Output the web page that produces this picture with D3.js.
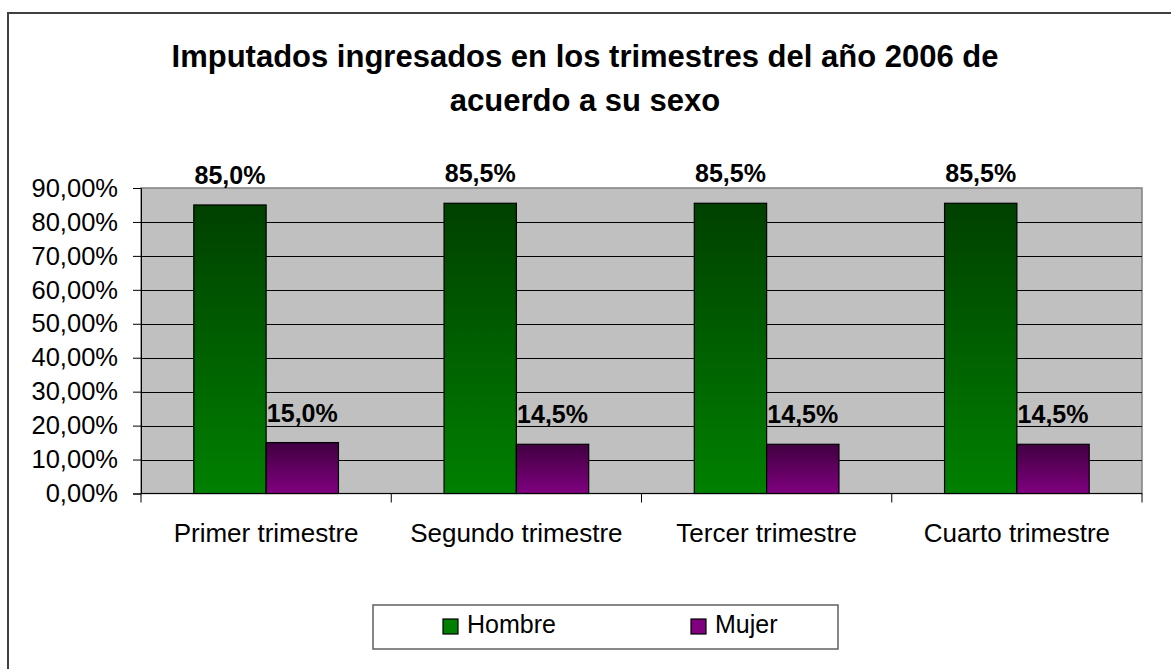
<!DOCTYPE html>
<html>
<head>
<meta charset="utf-8">
<script src="https://cdn.jsdelivr.net/npm/d3@7"></script>
<style>
  html, body { margin: 0; padding: 0; background: #fff; }
  svg { display: block; font-family: Arial, "Liberation Sans", sans-serif; }
</style>
</head>
<body>
<svg id="chart" width="1171" height="669"></svg>
<script>
const categories = ["Primer trimestre", "Segundo trimestre", "Tercer trimestre", "Cuarto trimestre"];
const seriesNames = ["Hombre", "Mujer"];
const hombre = [85.0, 85.5, 85.5, 85.5];
const mujer = [15.0, 14.5, 14.5, 14.5];
const yTicks = [0, 10, 20, 30, 40, 50, 60, 70, 80, 90];
const titleLines = ["Imputados ingresados en los trimestres del año 2006 de", "acuerdo a su sexo"];
const seriesColors = { Hombre: ["#004000", "#008000"], Mujer: ["#400040", "#800080"] };

const svg = d3.select("#chart");
const W = 1171, H = 669;
const plot = { left: 141, right: 1142, top: 188, bottom: 493.5 };

// outer frame
svg.append("rect").attr("x", 8).attr("y", 13).attr("width", W + 20).attr("height", H + 20)
  .attr("fill", "#fff").attr("stroke", "#404040").attr("stroke-width", 2);

// gradients
const defs = svg.append("defs");
seriesNames.forEach(s => {
  const g = defs.append("linearGradient").attr("id", "grad-" + s)
    .attr("x1", 0).attr("y1", 0).attr("x2", 0).attr("y2", 1);
  g.append("stop").attr("offset", "0%").attr("stop-color", seriesColors[s][0]);
  g.append("stop").attr("offset", "100%").attr("stop-color", seriesColors[s][1]);
});

// title
svg.append("g").selectAll("text").data(titleLines).join("text")
  .attr("x", 585).attr("y", (d, i) => 67 + i * 44)
  .attr("text-anchor", "middle").attr("font-weight", "bold").attr("font-size", 31)
  .attr("fill", "#000").text(d => d);

const y = d3.scaleLinear().domain([0, 90]).range([plot.bottom, plot.top]);
const x0 = d3.scaleBand().domain(categories).range([plot.left, plot.right]).paddingInner(0).paddingOuter(0);
const x1 = d3.scaleBand().domain(seriesNames).range([0, x0.bandwidth()]).paddingInner(0).paddingOuter(0.73);

// plot area
svg.append("rect").attr("x", plot.left).attr("y", plot.top)
  .attr("width", plot.right - plot.left).attr("height", plot.bottom - plot.top)
  .attr("fill", "#c0c0c0").attr("stroke", "#808080").attr("stroke-width", 1.5);

// gridlines
svg.append("g").selectAll("line").data(yTicks.filter(t => t > 0 && t < 90)).join("line")
  .attr("x1", plot.left).attr("x2", plot.right)
  .attr("y1", d => Math.round(y(d)) + 0.5).attr("y2", d => Math.round(y(d)) + 0.5)
  .attr("stroke", "#000").attr("stroke-width", 1);

// y axis
const yAxis = d3.axisLeft(y).tickValues(yTicks).tickSize(8).tickPadding(15)
  .tickFormat(d => d3.format(".2f")(d).replace(".", ",") + "%");
const yg = svg.append("g").attr("transform", `translate(${plot.left},0)`).call(yAxis);
yg.select(".domain").attr("stroke", "#000").attr("stroke-width", 1);
yg.selectAll(".tick line").attr("stroke", "#000");
yg.selectAll(".tick text").attr("font-size", 25.5).attr("fill", "#000")
  .attr("font-family", "Arial, 'Liberation Sans', sans-serif");

// bars
const data = categories.map((c, i) => ({ cat: c, vals: [{ s: "Hombre", v: hombre[i] }, { s: "Mujer", v: mujer[i] }] }));
const groups = svg.append("g").selectAll("g").data(data).join("g")
  .attr("transform", d => `translate(${x0(d.cat)},0)`);
groups.selectAll("rect").data(d => d.vals).join("rect")
  .attr("x", d => x1(d.s)).attr("width", x1.bandwidth())
  .attr("y", d => y(d.v)).attr("height", d => y(0) - y(d.v))
  .attr("fill", d => `url(#grad-${d.s})`).attr("stroke", "#000").attr("stroke-width", 1.2);
groups.selectAll("text").data(d => d.vals).join("text")
  .attr("x", d => x1(d.s) + x1.bandwidth() / 2).attr("y", d => y(d.v) - 21)
  .attr("text-anchor", "middle").attr("font-weight", "bold").attr("font-size", 25)
  .attr("fill", "#000").text(d => d3.format(".1f")(d.v).replace(".", ",") + "%");

// x axis
const xg = svg.append("g").attr("transform", `translate(0,${plot.bottom})`);
xg.append("line").attr("x1", plot.left).attr("x2", plot.right).attr("y1", 0).attr("y2", 0)
  .attr("stroke", "#000").attr("stroke-width", 1);
const bounds = categories.map(c => x0(c)).concat([plot.right]);
xg.selectAll("line.tk").data(bounds).join("line").attr("class", "tk")
  .attr("x1", d => d).attr("x2", d => d).attr("y1", 0).attr("y2", 9)
  .attr("stroke", "#000").attr("stroke-width", 1);
xg.selectAll("text").data(categories).join("text")
  .attr("x", d => x0(d) + x0.bandwidth() / 2).attr("y", 48)
  .attr("text-anchor", "middle").attr("font-size", 26).attr("fill", "#000").text(d => d);

// legend
const lg = svg.append("g");
lg.append("rect").attr("x", 373).attr("y", 605).attr("width", 465).attr("height", 44)
  .attr("fill", "#fff").attr("stroke", "#606060").attr("stroke-width", 1.5);
const legendX = [443, 691];
const items = lg.selectAll("g").data(seriesNames).join("g")
  .attr("transform", (d, i) => `translate(${legendX[i]},619)`);
items.append("rect").attr("width", 15).attr("height", 15)
  .attr("fill", d => seriesColors[d][1]).attr("stroke", "#000").attr("stroke-width", 1.2);
items.append("text").attr("x", 24).attr("y", 14).attr("font-size", 25).attr("fill", "#000").text(d => d);
</script>
</body>
</html>
